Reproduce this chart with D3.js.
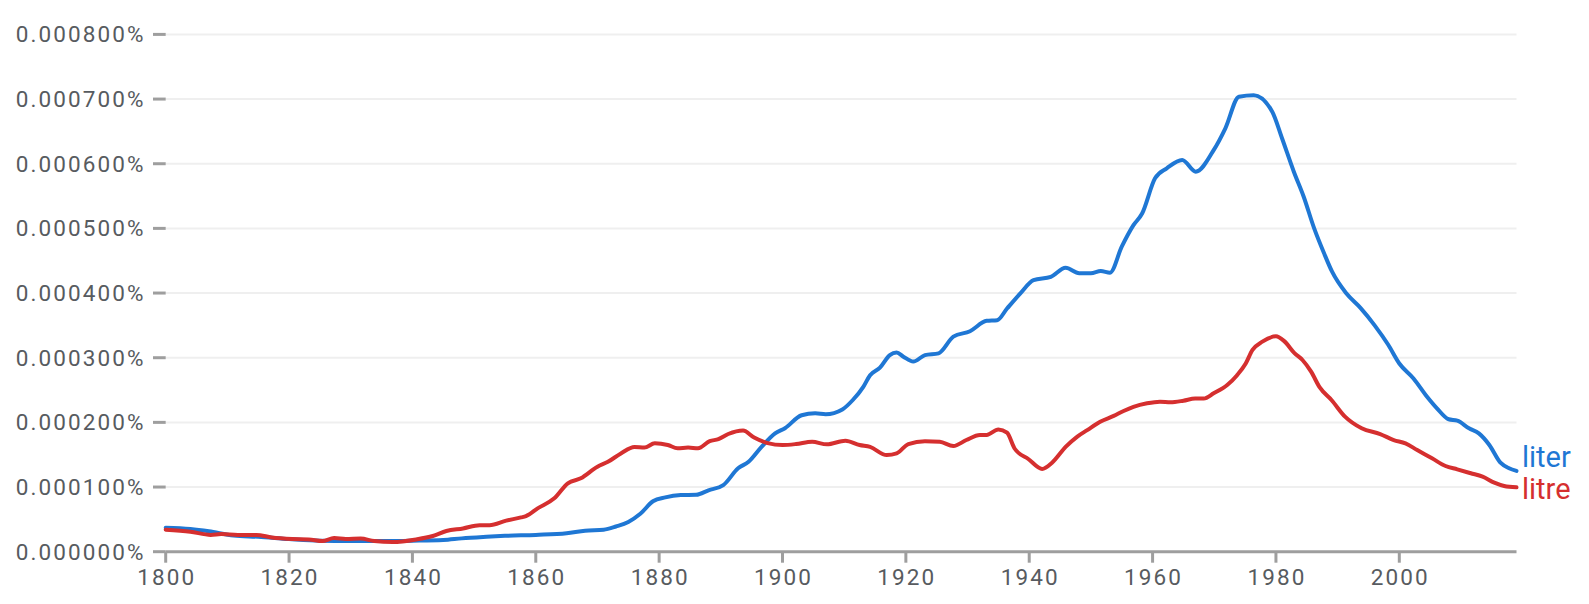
<!DOCTYPE html>
<html>
<head>
<meta charset="utf-8">
<script src="https://cdn.jsdelivr.net/npm/d3@7"></script>
<style>
  html, body { margin: 0; padding: 0; background: #fff; }
  svg { display: block; }
  text { font-family: Roboto, "Noto Sans", sans-serif; }
</style>
</head>
<body>
<svg id="chart" width="1589" height="604"></svg>
<script>
// Values are in millionths of a percent (37 => 0.000037%)
const literYears = [1800,1804,1807,1811,1815,1820,1825,1830,1835,1840,1845,1848,1852,1855,1860,1865,1868,1871,1873,1875,1877,1879,1881,1883.5,1886,1888,1890.4,1892.8,1894.5,1896.6,1898.8,1900.4,1903.1,1905.3,1907,1909.7,1911.4,1913.1,1914.2,1915.8,1917.4,1918.5,1919.6,1921.2,1923.1,1925.3,1927.7,1930.4,1933.1,1934.8,1936.4,1938.6,1940.7,1943.5,1945.9,1948.1,1950,1951.6,1953.1,1955,1956.9,1958.3,1960.4,1962.3,1964.8,1967,1969.9,1971.8,1974,1976.4,1979.4,1981,1982.9,1984.5,1986.2,1987.8,1989.1,1991.4,1993.7,1996,1998.2,2000,2002.3,2004.5,2006.1,2008,2009.4,2011.3,2012.9,2014.6,2016.4,2017.8,2019];
const literValues = [37,35,31.5,25,23,19.6,17,16.5,16.5,17,18,20.6,23,24.5,26,28.5,32.5,34,39,46,59,78,84,87.5,88,95,103,129,139,162,183,191,211,214,212.6,220,234.6,255,273,284.6,304,308,301.6,294,304,306.8,332.5,341,357,358,376,400,420,425,439,430.5,430.5,434,431.5,471.7,505,523,577.5,593,605.8,587.7,621,654.8,703.7,706,680.5,639,587.7,549,500,461.5,433,399.6,377,350,320,291,268,239.7,221.8,204.8,202.6,190.8,183,165,137.6,129,125];

const litreYears = [1800,1804,1807.3,1809,1811.7,1814.7,1817.2,1820.5,1823.2,1825.4,1827.3,1829.2,1831.6,1833.8,1836.8,1840.6,1843.3,1845.5,1848.2,1850.9,1852.5,1855.2,1857.6,1858.4,1860.3,1863,1865.2,1867.3,1870,1871.7,1873.8,1876,1877.6,1879.3,1881.4,1883,1884.7,1886.3,1888.2,1889.6,1891.2,1893.6,1895.4,1897.6,1900,1902.2,1904.8,1907.2,1910.2,1912.5,1914.2,1916.9,1918.5,1920.4,1923.1,1925.5,1927.7,1929.8,1932,1933.1,1935,1936.4,1937.6,1939.9,1942.1,1943.7,1945.9,1947.8,1949.4,1951.5,1953.7,1955.3,1956.9,1959.1,1961.2,1962.9,1965,1966.9,1968.3,1969.9,1972.1,1973.7,1975.1,1976.2,1977.8,1980,1981.3,1983,1984.3,1985.7,1987.1,1989,1991.2,1993.9,1996.9,1999.1,2001,2002.9,2005.3,2007.5,2009.4,2011.6,2013.5,2015.4,2017,2019];
const litreValues = [34,31,26,27.4,26,26,22,19.6,19,16.5,21,19.6,20.3,16.5,15,19,24.3,32,36,41,41,48,53,55,67,82.5,105.8,113.5,131.5,139,152,162,161,167.6,165,160,161,160,171,174,182,187.5,176.5,168,165,166.5,170,166,171.7,165,162,149.5,152,166.5,171,170,163.5,172.7,180.5,180.5,189,184,160,143,128,137.6,162,178,188,201,210,217.6,224,229.5,232,231,233.5,237,237,245,257.8,273,291,312,324.8,333,326,307,296.5,278.4,254,234.6,208.8,190.8,182,172.7,167.6,157.3,144.5,132.5,127.4,121.3,116,106.7,101.6,99.6];

const seriesNames = ["liter", "litre"];
const yTickValues = [0,100,200,300,400,500,600,700,800];
const yTickLabels = ["0.000000%","0.000100%","0.000200%","0.000300%","0.000400%","0.000500%","0.000600%","0.000700%","0.000800%"];
const xTickValues = [1800,1820,1840,1860,1880,1900,1920,1940,1960,1980,2000];
const xTickLabels = ["1800","1820","1840","1860","1880","1900","1920","1940","1960","1980","2000"];

const colors = {liter: "#1f77d4", litre: "#d52f2f"};
const svg = d3.select("#chart");

const x = d3.scaleLinear().domain([1800, 2019]).range([165.7, 1516.5]);
const y = d3.scaleLinear().domain([0, 800]).range([551.7, 34.4]);

const axisColor = "#9e9e9e";
const textColor = "#575b60";

// gridlines
svg.append("g").selectAll("line")
  .data(yTickValues.filter(v => v !== 0))
  .join("line")
  .attr("x1", x(1800)).attr("x2", x(2019))
  .attr("y1", d => y(d)).attr("y2", d => y(d))
  .attr("stroke", "#efefef").attr("stroke-width", 2);

// y ticks + labels
const yg = svg.append("g");
yg.selectAll("line").data(yTickValues).join("line")
  .attr("x1", 153).attr("x2", x(1800))
  .attr("y1", d => y(d)).attr("y2", d => y(d))
  .attr("stroke", axisColor).attr("stroke-width", 3);
yg.selectAll("text").data(yTickValues).join("text")
  .attr("x", 145.5).attr("y", d => y(d) + 8)
  .attr("text-anchor", "end")
  .attr("font-size", 22.5).attr("letter-spacing", "2.1px")
  .attr("fill", textColor)
  .text((d, i) => yTickLabels[i]);

// x axis line
svg.append("line")
  .attr("x1", x(1800)).attr("x2", x(2019))
  .attr("y1", y(0)).attr("y2", y(0))
  .attr("stroke", axisColor).attr("stroke-width", 3);

const xg = svg.append("g");
xg.selectAll("line").data(xTickValues).join("line")
  .attr("x1", d => x(d)).attr("x2", d => x(d))
  .attr("y1", y(0)).attr("y2", y(0) + 11)
  .attr("stroke", axisColor).attr("stroke-width", 3);
xg.selectAll("text").data(xTickValues).join("text")
  .attr("x", d => x(d) + 1).attr("y", 585)
  .attr("text-anchor", "middle")
  .attr("font-size", 22.5).attr("letter-spacing", "2.1px")
  .attr("fill", textColor)
  .text((d, i) => xTickLabels[i]);

// lines
const line = d3.line().x(d => x(d[0])).y(d => y(d[1])).curve(d3.curveMonotoneX);
const literData = literYears.map((yr, i) => [yr, literValues[i]]);
const litreData = litreYears.map((yr, i) => [yr, litreValues[i]]);

svg.append("path").datum(literData).attr("d", line)
  .attr("fill", "none").attr("stroke", colors.liter).attr("stroke-width", 4)
  .attr("stroke-linejoin", "round").attr("stroke-linecap", "round");
svg.append("path").datum(litreData).attr("d", line)
  .attr("fill", "none").attr("stroke", colors.litre).attr("stroke-width", 4)
  .attr("stroke-linejoin", "round").attr("stroke-linecap", "round");

// series labels
svg.append("text")
  .attr("x", 1522).attr("y", y(literValues[literValues.length - 1]) - 4)
  .attr("font-size", 29).attr("fill", colors.liter)
  .text(seriesNames[0]);
svg.append("text")
  .attr("x", 1522).attr("y", y(litreValues[litreValues.length - 1]) + 12)
  .attr("font-size", 29).attr("fill", colors.litre)
  .text(seriesNames[1]);
</script>
</body>
</html>
